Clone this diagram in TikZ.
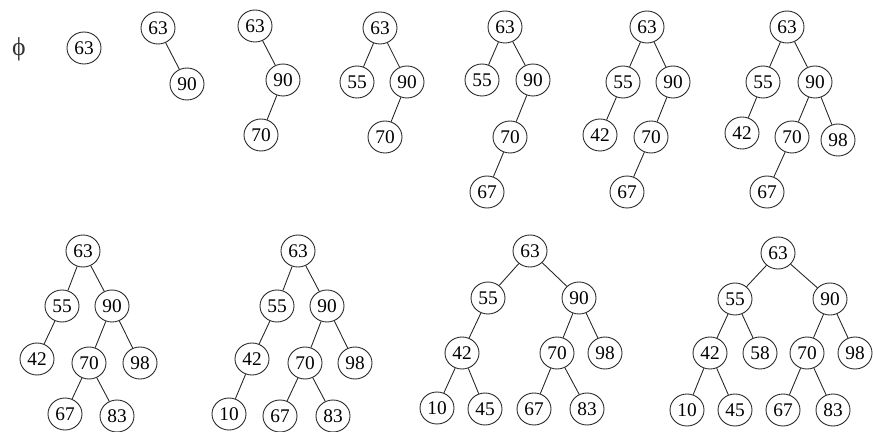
\documentclass[tikz,border=0pt]{standalone}
\usepackage{fontspec}
\setmainfont{Liberation Serif}
\usetikzlibrary{shapes.geometric}
\begin{document}
\begin{tikzpicture}[x=0.03cm,y=-0.03cm,
  nd/.style={draw=black!85,line width=0.75pt,ellipse,inner sep=0pt,minimum width=1.02cm,minimum height=0.96cm,font=\fontsize{16.5}{18}\selectfont},
  ed/.style={draw=black!85,line width=0.75pt}]
\useasboundingbox (0,0) rectangle (873,432);
\node[text=black!80] (phi) at (19,49) {\fontsize{22}{24}\selectfont \symbol{"03D5}};
% tree 1
\node[nd] (a63) at (84,48) {63};
% tree 2
\node[nd] (b63) at (158,28) {63};
\node[nd] (b90) at (187,84) {90};
\draw[ed] (b63)--(b90);
% tree 3
\node[nd] (c63) at (255,26) {63};
\node[nd] (c90) at (283,80) {90};
\node[nd] (c70) at (261,135) {70};
\draw[ed] (c63)--(c90) (c90)--(c70);
% tree 4
\node[nd] (d63) at (380,28) {63};
\node[nd] (d55) at (357,82) {55};
\node[nd] (d90) at (407,82) {90};
\node[nd] (d70) at (385,137) {70};
\draw[ed] (d63)--(d55) (d63)--(d90) (d90)--(d70);
% tree 5
\node[nd] (e63) at (505,27) {63};
\node[nd] (e55) at (482,80) {55};
\node[nd] (e90) at (533,80) {90};
\node[nd] (e70) at (510,137) {70};
\node[nd] (e67) at (487,192) {67};
\draw[ed] (e63)--(e55) (e63)--(e90) (e90)--(e70) (e70)--(e67);
% tree 6
\node[nd] (f63) at (647,27) {63};
\node[nd] (f55) at (623,82) {55};
\node[nd] (f90) at (673,82) {90};
\node[nd] (f42) at (600,135) {42};
\node[nd] (f70) at (651,137) {70};
\node[nd] (f67) at (627,192) {67};
\draw[ed] (f63)--(f55) (f63)--(f90) (f55)--(f42) (f90)--(f70) (f70)--(f67);
% tree 7
\node[nd] (g63) at (787,27) {63};
\node[nd] (g55) at (763,82) {55};
\node[nd] (g90) at (815,82) {90};
\node[nd] (g42) at (742,133) {42};
\node[nd] (g70) at (792,137) {70};
\node[nd] (g98) at (838,140) {98};
\node[nd] (g67) at (767,192) {67};
\draw[ed] (g63)--(g55) (g63)--(g90) (g55)--(g42) (g90)--(g70) (g90)--(g98) (g70)--(g67);
% tree 8
\node[nd] (h63) at (83,251) {63};
\node[nd] (h55) at (62,306) {55};
\node[nd] (h90) at (112,306) {90};
\node[nd] (h42) at (37,359) {42};
\node[nd] (h70) at (89,363) {70};
\node[nd] (h98) at (140,363) {98};
\node[nd] (h67) at (65,414) {67};
\node[nd] (h83) at (117,416) {83};
\draw[ed] (h63)--(h55) (h63)--(h90) (h55)--(h42) (h90)--(h70) (h90)--(h98) (h70)--(h67) (h70)--(h83);
% tree 9
\node[nd] (i63) at (298,251) {63};
\node[nd] (i55) at (277,306) {55};
\node[nd] (i90) at (327,306) {90};
\node[nd] (i42) at (252,359) {42};
\node[nd] (i70) at (305,363) {70};
\node[nd] (i98) at (355,363) {98};
\node[nd] (i10) at (229,414) {10};
\node[nd] (i67) at (280,416) {67};
\node[nd] (i83) at (333,416) {83};
\draw[ed] (i63)--(i55) (i63)--(i90) (i55)--(i42) (i90)--(i70) (i90)--(i98) (i42)--(i10) (i70)--(i67) (i70)--(i83);
% tree 10
\node[nd] (j63) at (530,251) {63};
\node[nd] (j55) at (488,298) {55};
\node[nd] (j90) at (579,298) {90};
\node[nd] (j42) at (462,353) {42};
\node[nd] (j70) at (557,353) {70};
\node[nd] (j98) at (605,353) {98};
\node[nd] (j10) at (437,408) {10};
\node[nd] (j45) at (485,409) {45};
\node[nd] (j67) at (534,409) {67};
\node[nd] (j83) at (587,409) {83};
\draw[ed] (j63)--(j55) (j63)--(j90) (j55)--(j42) (j90)--(j70) (j90)--(j98) (j42)--(j10) (j42)--(j45) (j70)--(j67) (j70)--(j83);
% tree 11
\node[nd] (k63) at (778,253) {63};
\node[nd] (k55) at (735,299) {55};
\node[nd] (k90) at (830,299) {90};
\node[nd] (k42) at (710,353) {42};
\node[nd] (k58) at (760,353) {58};
\node[nd] (k70) at (807,353) {70};
\node[nd] (k98) at (855,353) {98};
\node[nd] (k10) at (687,410) {10};
\node[nd] (k45) at (735,410) {45};
\node[nd] (k67) at (783,410) {67};
\node[nd] (k83) at (833,410) {83};
\draw[ed] (k63)--(k55) (k63)--(k90) (k55)--(k42) (k55)--(k58) (k90)--(k70) (k90)--(k98) (k42)--(k10) (k42)--(k45) (k70)--(k67) (k70)--(k83);
\end{tikzpicture}
\end{document}
